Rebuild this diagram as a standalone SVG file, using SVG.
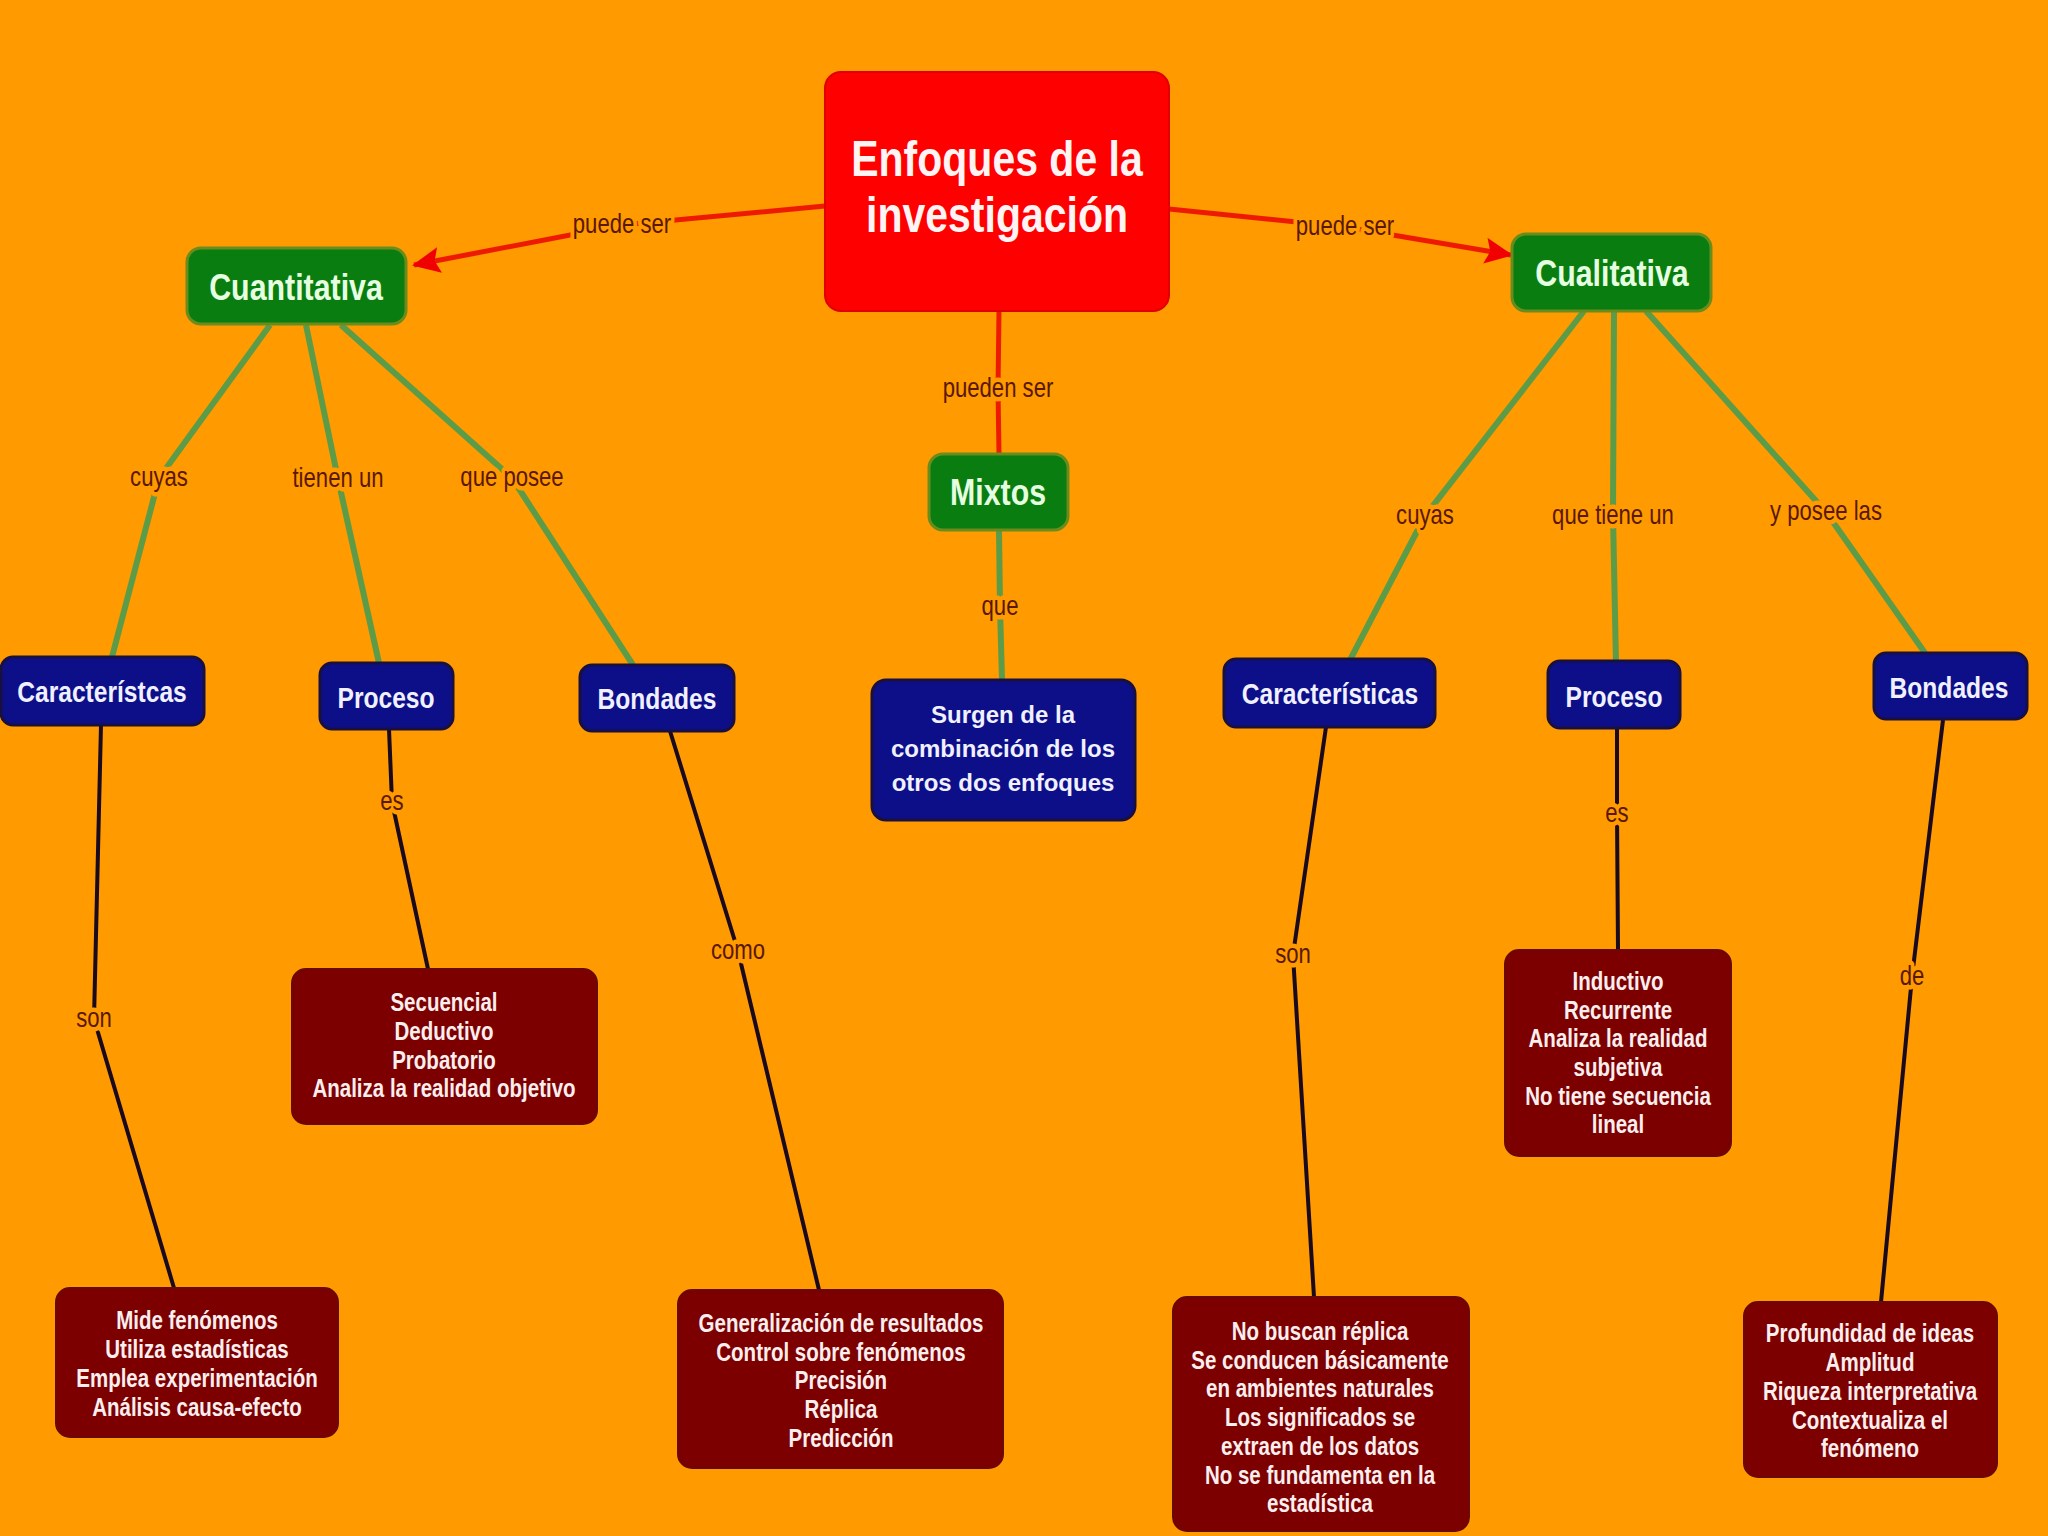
<svg xmlns="http://www.w3.org/2000/svg" width="2048" height="1536" viewBox="0 0 2048 1536">
<defs>
<marker id="arr" markerUnits="userSpaceOnUse" markerWidth="28" markerHeight="26" viewBox="0 0 28 26" refX="26" refY="13" orient="auto">
<path d="M0,0 L28,13 L0,26 L5,13 z" fill="#f00000"/>
</marker>
<style>
.bg{fill:#FF9A00}
.cr{fill:none;stroke:#ee1a00;stroke-width:5;stroke-linejoin:round}
.cg{fill:none;stroke:#5c9c48;stroke-width:6;stroke-linejoin:round}
.ck{fill:none;stroke:#1a0a1e;stroke-width:4;stroke-linejoin:round}
.lbl{font-family:"Liberation Sans",Arial,sans-serif;font-size:27px;fill:#5a1800;text-anchor:middle;stroke:#FF9A00;stroke-width:9px;paint-order:stroke;stroke-linejoin:round}
.root{fill:#ff0000;stroke:#e00000;stroke-width:2}
.grn{fill:#0a7d10;stroke:#6a8c1c;stroke-width:3}
.blu{fill:#0c0f88;stroke:#1a1040;stroke-width:3}
.red{fill:#7c0000;stroke:#6a0808;stroke-width:2}
.tRoot{font-family:"Liberation Sans",Arial,sans-serif;font-weight:bold;font-size:50px;fill:#fff4f4;text-anchor:middle}
.tGrn{font-family:"Liberation Sans",Arial,sans-serif;font-weight:bold;font-size:37px;fill:#e6ffe0;text-anchor:middle}
.tBlu{font-family:"Liberation Sans",Arial,sans-serif;font-weight:bold;font-size:30px;fill:#f0f0ff;text-anchor:middle}
.tSur{font-family:"Liberation Sans",Arial,sans-serif;font-weight:bold;font-size:24px;fill:#f0f0ff;text-anchor:middle}
.tRed{font-family:"Liberation Sans",Arial,sans-serif;font-weight:bold;font-size:25px;fill:#fbeeee;text-anchor:middle}
</style>
</defs>
<rect class="bg" x="0" y="0" width="2048" height="1536"/>

<g id="connectors">
<polyline class="cr" points="825,206 622,225 414,265" marker-end="url(#arr)"/>
<polyline class="cr" points="1169,209 1345,227 1511,255" marker-end="url(#arr)"/>
<polyline class="cr" points="999,311 998,389 999,454"/>
<polyline class="cg" points="999,530 1000,607 1002,680"/>
<polyline class="cg" points="270,325 159,478 112,657"/>
<polyline class="cg" points="306,325 338,479 379,663"/>
<polyline class="cg" points="341,325 512,478 633,665"/>
<polyline class="cg" points="1584,311 1425,516 1350,660"/>
<polyline class="cg" points="1614,311 1613,516 1616,663"/>
<polyline class="cg" points="1646,311 1826,512 1925,653"/>
<polyline class="ck" points="101,725 94,1019 174,1288"/>
<polyline class="ck" points="389,729 392,802 428,969"/>
<polyline class="ck" points="670,731 738,951 819,1290"/>
<polyline class="ck" points="1326,727 1293,955 1314,1297"/>
<polyline class="ck" points="1617,729 1617,814 1618,950"/>
<polyline class="ck" points="1943,720 1912,977 1881,1302"/>
<text class="lbl" transform="translate(622,233) scale(0.82,1)">puede ser</text>
<text class="lbl" transform="translate(1345,235) scale(0.82,1)">puede ser</text>
<text class="lbl" transform="translate(998,397) scale(0.82,1)">pueden ser</text>
<text class="lbl" transform="translate(1000,615) scale(0.82,1)">que</text>
<text class="lbl" transform="translate(159,486) scale(0.82,1)">cuyas</text>
<text class="lbl" transform="translate(338,487) scale(0.82,1)">tienen un</text>
<text class="lbl" transform="translate(512,486) scale(0.82,1)">que posee</text>
<text class="lbl" transform="translate(1425,524) scale(0.82,1)">cuyas</text>
<text class="lbl" transform="translate(1613,524) scale(0.82,1)">que tiene un</text>
<text class="lbl" transform="translate(1826,520) scale(0.82,1)">y posee las</text>
<text class="lbl" transform="translate(392,810) scale(0.82,1)">es</text>
<text class="lbl" transform="translate(94,1027) scale(0.82,1)">son</text>
<text class="lbl" transform="translate(738,959) scale(0.82,1)">como</text>
<text class="lbl" transform="translate(1293,963) scale(0.82,1)">son</text>
<text class="lbl" transform="translate(1617,822) scale(0.82,1)">es</text>
<text class="lbl" transform="translate(1912,985) scale(0.82,1)">de</text>
</g>

<g id="root">
<rect class="root" x="825" y="72" width="344" height="239" rx="16"/>
<g transform="translate(997,0) scale(0.82,1)">
<text class="tRoot" x="0" y="176">Enfoques de la</text>
<text class="tRoot" x="0" y="232">investigación</text>
</g>
</g>
<g id="cuantitativa">
<rect class="grn" x="187" y="248" width="219" height="76" rx="14"/>
<text class="tGrn" transform="translate(296,300) scale(0.82,1)">Cuantitativa</text>
</g>
<g id="cualitativa">
<rect class="grn" x="1512" y="234" width="199" height="77" rx="14"/>
<text class="tGrn" transform="translate(1612,286) scale(0.82,1)">Cualitativa</text>
</g>
<g id="mixtos">
<rect class="grn" x="929" y="454" width="139" height="76" rx="14"/>
<text class="tGrn" transform="translate(998,505) scale(0.82,1)">Mixtos</text>
</g>
<g id="surgen">
<rect class="blu" x="872" y="680" width="263" height="140" rx="14"/>
<text class="tSur" x="1003" y="723">Surgen de la</text>
<text class="tSur" x="1003" y="757">combinación de los</text>
<text class="tSur" x="1003" y="791">otros dos enfoques</text>
</g>
<g id="caracteristcas-cuanti">
<rect class="blu" x="1" y="657" width="203" height="68" rx="12"/>
<text class="tBlu" transform="translate(102,702) scale(0.82,1)">Característcas</text>
</g>
<g id="proceso-cuanti">
<rect class="blu" x="320" y="663" width="133" height="66" rx="12"/>
<text class="tBlu" transform="translate(386,708) scale(0.82,1)">Proceso</text>
</g>
<g id="bondades-cuanti">
<rect class="blu" x="580" y="665" width="154" height="66" rx="12"/>
<text class="tBlu" transform="translate(657,709) scale(0.82,1)">Bondades</text>
</g>
<g id="caracteristicas-cuali">
<rect class="blu" x="1224" y="659" width="211" height="68" rx="12"/>
<text class="tBlu" transform="translate(1330,704) scale(0.82,1)">Características</text>
</g>
<g id="proceso-cuali">
<rect class="blu" x="1548" y="661" width="132" height="67" rx="12"/>
<text class="tBlu" transform="translate(1614,707) scale(0.82,1)">Proceso</text>
</g>
<g id="bondades-cuali">
<rect class="blu" x="1874" y="653" width="153" height="66" rx="12"/>
<text class="tBlu" transform="translate(1949,698) scale(0.82,1)">Bondades</text>
</g>
<g id="proceso-cuanti-detalle">
<rect class="red" x="292" y="969" width="305" height="155" rx="14"/>
<g transform="translate(444,0) scale(0.82,1)">
<text class="tRed" x="0" y="1011">Secuencial</text>
<text class="tRed" x="0" y="1040">Deductivo</text>
<text class="tRed" x="0" y="1069">Probatorio</text>
<text class="tRed" x="0" y="1097">Analiza la realidad objetivo</text>
</g>
</g>
<g id="caracteristicas-cuanti-detalle">
<rect class="red" x="56" y="1288" width="282" height="149" rx="14"/>
<g transform="translate(197,0) scale(0.82,1)">
<text class="tRed" x="0" y="1329">Mide fenómenos</text>
<text class="tRed" x="0" y="1358">Utiliza estadísticas</text>
<text class="tRed" x="0" y="1387">Emplea experimentación</text>
<text class="tRed" x="0" y="1416">Análisis causa-efecto</text>
</g>
</g>
<g id="bondades-cuanti-detalle">
<rect class="red" x="678" y="1290" width="325" height="178" rx="14"/>
<g transform="translate(841,0) scale(0.82,1)">
<text class="tRed" x="0" y="1332">Generalización de resultados</text>
<text class="tRed" x="0" y="1361">Control sobre fenómenos</text>
<text class="tRed" x="0" y="1389">Precisión</text>
<text class="tRed" x="0" y="1418">Réplica</text>
<text class="tRed" x="0" y="1447">Predicción</text>
</g>
</g>
<g id="proceso-cuali-detalle">
<rect class="red" x="1505" y="950" width="226" height="206" rx="14"/>
<g transform="translate(1618,0) scale(0.82,1)">
<text class="tRed" x="0" y="990">Inductivo</text>
<text class="tRed" x="0" y="1019">Recurrente</text>
<text class="tRed" x="0" y="1047">Analiza la realidad</text>
<text class="tRed" x="0" y="1076">subjetiva</text>
<text class="tRed" x="0" y="1105">No tiene secuencia</text>
<text class="tRed" x="0" y="1133">lineal</text>
</g>
</g>
<g id="caracteristicas-cuali-detalle">
<rect class="red" x="1173" y="1297" width="296" height="234" rx="14"/>
<g transform="translate(1320,0) scale(0.82,1)">
<text class="tRed" x="0" y="1340">No buscan réplica</text>
<text class="tRed" x="0" y="1369">Se conducen básicamente</text>
<text class="tRed" x="0" y="1397">en ambientes naturales</text>
<text class="tRed" x="0" y="1426">Los significados se</text>
<text class="tRed" x="0" y="1455">extraen de los datos</text>
<text class="tRed" x="0" y="1484">No se fundamenta en la</text>
<text class="tRed" x="0" y="1512">estadística</text>
</g>
</g>
<g id="bondades-cuali-detalle">
<rect class="red" x="1744" y="1302" width="253" height="175" rx="14"/>
<g transform="translate(1870,0) scale(0.82,1)">
<text class="tRed" x="0" y="1342">Profundidad de ideas</text>
<text class="tRed" x="0" y="1371">Amplitud</text>
<text class="tRed" x="0" y="1400">Riqueza interpretativa</text>
<text class="tRed" x="0" y="1429">Contextualiza el</text>
<text class="tRed" x="0" y="1457">fenómeno</text>
</g>
</g>
</svg>
